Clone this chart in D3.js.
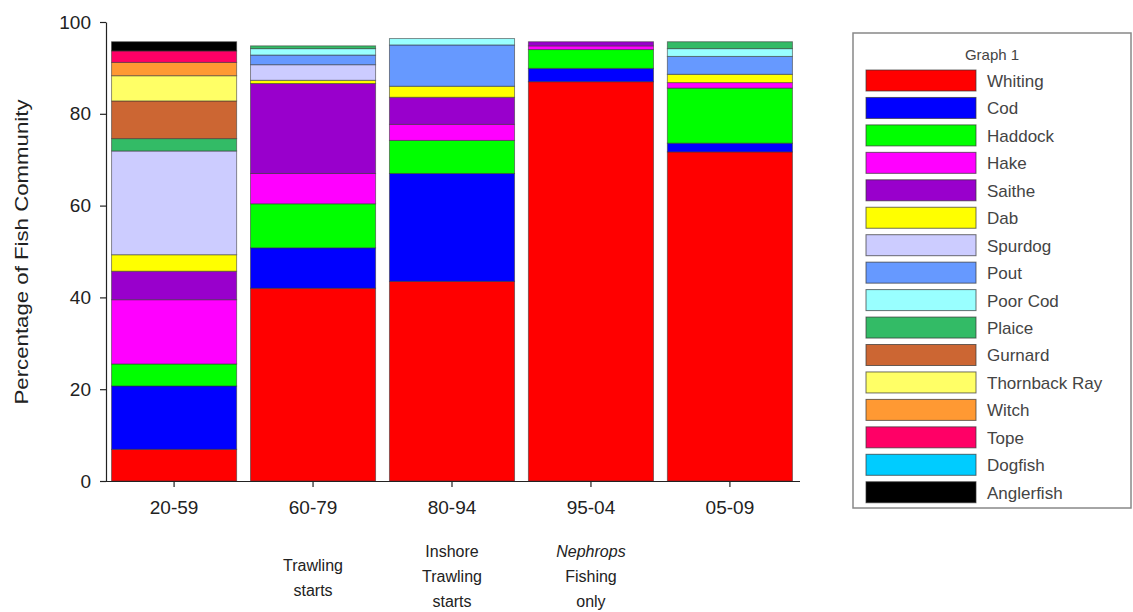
<!DOCTYPE html>
<html>
<head>
<meta charset="utf-8">
<script src="https://cdn.jsdelivr.net/npm/d3@7"></script>
<style>
  body { margin: 0; background: #fff; }
  svg { font-family: Arial, "Liberation Sans", sans-serif; }
  .axis text { fill: #222; }
</style>
</head>
<body>
<svg width="1133" height="612"></svg>
<script>
// time periods on the x axis
const periods = ['20-59', '60-79', '80-94', '95-04', '05-09'];
const notes = [[], ['Trawling', 'starts'], ['Inshore', 'Trawling', 'starts'], ['Nephrops', 'Fishing', 'only'], []];

const species = ['Whiting', 'Cod', 'Haddock', 'Hake', 'Saithe', 'Dab', 'Spurdog', 'Pout',
                 'Poor Cod', 'Plaice', 'Gurnard', 'Thornback Ray', 'Witch', 'Tope', 'Dogfish', 'Anglerfish'];
const colours = ['#ff0000', '#0000ff', '#00ff00', '#ff00ff', '#9900cc', '#ffff00', '#ccccff', '#6699ff',
                 '#99ffff', '#33bb66', '#cc6633', '#ffff66', '#ff9933', '#ff0066', '#00ccff', '#000000'];

// percentage of fish community, one array per species (in period order)
const whiting    = [6.9, 42.0, 43.5, 87.0, 71.7];
const cod        = [13.8, 8.8, 23.5, 2.9, 1.9];
const haddock    = [4.8, 9.6, 7.2, 4.1, 12.0];
const hake       = [14.0, 6.6, 3.5, 0.8, 1.2];
const saithe     = [6.2, 19.6, 5.9, 0.9, 0];
const dab        = [3.6, 0.7, 2.4, 0, 1.8];
const spurdog    = [22.6, 3.4, 0, 0, 0];
const pout       = [0, 2.1, 9.0, 0, 3.9];
const poorCod    = [0, 1.4, 1.4, 0, 1.7];
const plaice     = [2.7, 0.6, 0, 0, 1.5];
const gurnard    = [8.2, 0, 0, 0, 0];
const thornback  = [5.5, 0, 0, 0, 0];
const witch      = [2.9, 0, 0, 0, 0];
const tope       = [2.5, 0, 0, 0, 0];
const dogfish    = [0, 0, 0, 0, 0];
const anglerfish = [2.0, 0, 0, 0, 0];

const yTicks = [0, 20, 40, 60, 80, 100];

const series = [whiting, cod, haddock, hake, saithe, dab, spurdog, pout,
                poorCod, plaice, gurnard, thornback, witch, tope, dogfish, anglerfish];

const table = periods.map((p, i) => {
    const row = { period: p };
    species.forEach((s, j) => row[s] = series[j][i]);
    return row;
});

const svg = d3.select('svg');
const plotLeft = 106, plotRight = 798, plotTop = 22, plotBottom = 481;

const xs = d3.scaleBand().domain(periods).range([plotLeft, plotRight]).paddingInner(0.1).paddingOuter(0.04);
const ys = d3.scaleLinear().domain([0, 100]).range([plotBottom, plotTop]);
const color = d3.scaleOrdinal().domain(species).range(colours);

const stacked = d3.stack().keys(species)(table);

// bars
svg.append('g').selectAll('g')
    .data(stacked)
    .join('g')
    .attr('fill', d => color(d.key))
    .selectAll('rect')
    .data(d => d.filter(v => v[1] - v[0] > 0))
    .join('rect')
    .attr('x', d => xs(d.data.period))
    .attr('y', d => ys(d[1]))
    .attr('width', xs.bandwidth())
    .attr('height', d => ys(d[0]) - ys(d[1]))
    .attr('stroke', '#333')
    .attr('stroke-opacity', 0.55)
    .attr('stroke-width', 1);

// y axis
const yAxis = svg.append('g')
    .attr('class', 'axis')
    .attr('transform', `translate(${plotLeft},0)`)
    .call(d3.axisLeft(ys).tickValues(yTicks).tickSize(6).tickPadding(9).tickSizeOuter(0));
yAxis.selectAll('text').style('font-size', '19px');
yAxis.selectAll('line, path').attr('stroke', '#222').attr('stroke-width', 1.2);

// x axis
const xAxis = svg.append('g')
    .attr('class', 'axis')
    .attr('transform', `translate(0,${plotBottom})`)
    .call(d3.axisBottom(xs).tickSize(6).tickPadding(14).tickSizeOuter(0));
xAxis.select('.domain').attr('d', `M${plotLeft},0.5H${plotRight + 2}`);
xAxis.selectAll('text').style('font-size', '19px');
xAxis.selectAll('line, path').attr('stroke', '#222').attr('stroke-width', 1.2);

svg.append('text')
    .attr('transform', 'translate(28,252) rotate(-90)')
    .attr('text-anchor', 'middle')
    .style('font-size', '19px')
    .attr('textLength', 305)
    .attr('lengthAdjust', 'spacingAndGlyphs')
    .attr('fill', '#222')
    .text('Percentage of Fish Community');

// notes under the periods
notes.forEach((lines, i) => {
    const start = lines.length === 2 ? 571 : 557;
    lines.forEach((t, k) => {
        svg.append('text')
            .attr('x', xs(periods[i]) + xs.bandwidth() / 2)
            .attr('y', start + k * 25)
            .attr('text-anchor', 'middle')
            .style('font-size', '16px')
            .style('font-style', t === 'Nephrops' ? 'italic' : 'normal')
            .attr('fill', '#222')
            .text(t);
    });
});

// legend
const legend = svg.append('g');
legend.append('rect')
    .attr('x', 853).attr('y', 33)
    .attr('width', 278).attr('height', 475)
    .attr('fill', 'none')
    .attr('stroke', '#888')
    .attr('stroke-width', 1.5);

legend.append('text')
    .attr('x', 992).attr('y', 60)
    .attr('text-anchor', 'middle')
    .style('font-size', '15px')
    .attr('fill', '#444')
    .text('Graph 1');

const item = legend.selectAll('.item')
    .data(species)
    .join('g')
    .attr('class', 'item')
    .attr('transform', (d, i) => `translate(866,${70 + i * 27.45})`);

item.append('rect')
    .attr('width', 110)
    .attr('height', 21)
    .attr('fill', d => color(d))
    .attr('stroke', '#333')
    .attr('stroke-opacity', 0.7);

item.append('text')
    .attr('x', 121)
    .attr('y', 11)
    .attr('dy', '.35em')
    .style('font-size', '17px')
    .attr('fill', '#444')
    .text(d => d);
</script>
</body>
</html>
